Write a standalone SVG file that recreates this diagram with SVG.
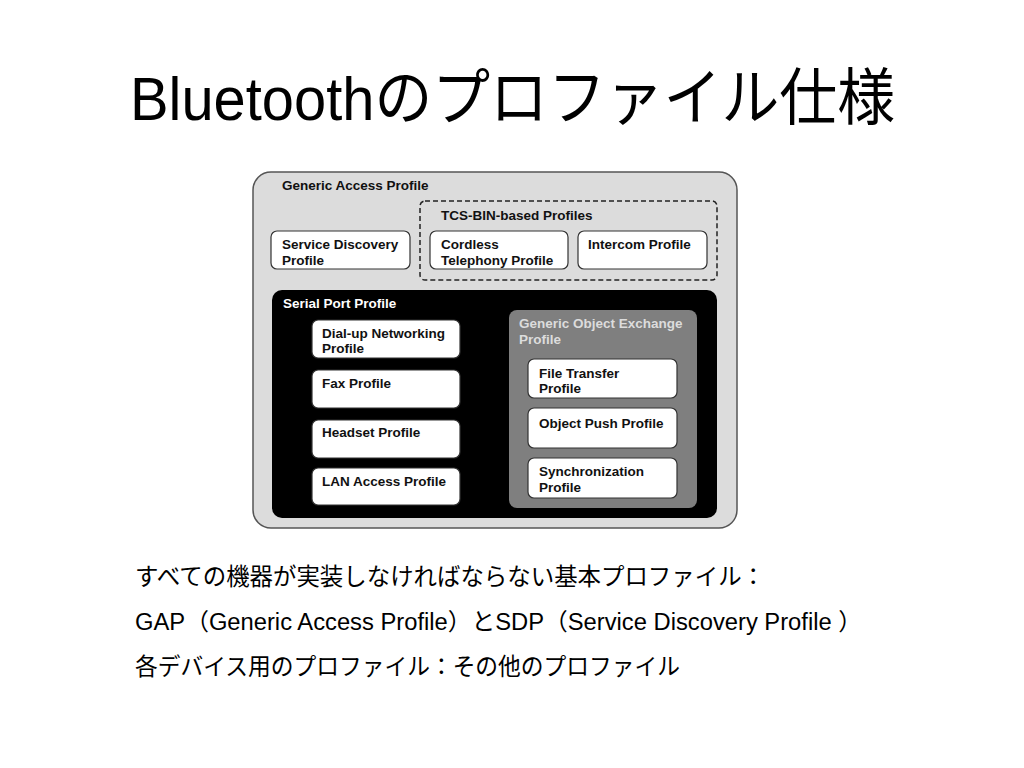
<svg xmlns="http://www.w3.org/2000/svg" width="1024" height="768" viewBox="0 0 1024 768">
<style>
.t{font-family:"Liberation Sans",Arial,sans-serif;font-weight:bold;font-size:13.5px;fill:#111}
.w{fill:#fff}
.g{fill:#dcdcdc}
.box{fill:#fff;stroke:#333;stroke-width:1.2}
.jp{font-family:"Liberation Sans","Noto Sans CJK JP",sans-serif;font-size:23.5px;fill:#000}
</style>
<rect width="1024" height="768" fill="#fff"/>
<text x="130" y="120" font-family="'Liberation Sans','Noto Sans CJK JP',sans-serif" font-size="62" textLength="765" lengthAdjust="spacingAndGlyphs">Bluetoothのプロファイル仕様</text>

<g id="gap">
<rect x="253" y="172" width="484" height="356" rx="18" fill="#dcdcdc" stroke="#555" stroke-width="1.5"/>
<text class="t" x="282" y="190">Generic Access Profile</text>
</g>
<g id="tcs">
<rect x="420" y="201" width="297" height="79" rx="5" fill="none" stroke="#222" stroke-width="1.5" stroke-dasharray="5,3"/>
<text class="t" x="441" y="220">TCS-BIN-based Profiles</text>
</g>
<g id="sdp">
<rect class="box" x="271" y="231" width="139" height="38" rx="6"/>
<text class="t" x="282" y="249">Service Discovery</text>
<text class="t" x="282" y="265">Profile</text>
</g>
<g id="ctp">
<rect class="box" x="430" y="231" width="138" height="38" rx="6"/>
<text class="t" x="441" y="249">Cordless</text>
<text class="t" x="441" y="265">Telephony Profile</text>
</g>
<g id="icp">
<rect class="box" x="578" y="231" width="129" height="38" rx="6"/>
<text class="t" x="588" y="249">Intercom Profile</text>
</g>
<g id="spp">
<rect x="272" y="290" width="445" height="228" rx="10" fill="#000"/>
<text class="t w" x="283" y="308">Serial Port Profile</text>
</g>
<g id="dun">
<rect class="box" x="312" y="320" width="148" height="38" rx="6"/>
<text class="t" x="322" y="338">Dial-up Networking</text>
<text class="t" x="322" y="353">Profile</text>
</g>
<g id="fax">
<rect class="box" x="312" y="370" width="148" height="38" rx="6"/>
<text class="t" x="322" y="388">Fax Profile</text>
</g>
<g id="hsp">
<rect class="box" x="312" y="420" width="148" height="38" rx="6"/>
<text class="t" x="322" y="437">Headset Profile</text>
</g>
<g id="lan">
<rect class="box" x="312" y="468" width="148" height="37" rx="6"/>
<text class="t" x="322" y="486">LAN Access Profile</text>
</g>
<g id="goep">
<rect x="509" y="310" width="188" height="198" rx="8" fill="#7f7f7f"/>
<text class="t g" x="519" y="328">Generic Object Exchange</text>
<text class="t g" x="519" y="344">Profile</text>
</g>
<g id="ftp">
<rect class="box" x="528" y="359" width="149" height="39" rx="6"/>
<text class="t" x="539" y="378">File Transfer</text>
<text class="t" x="539" y="393">Profile</text>
</g>
<g id="opp">
<rect class="box" x="528" y="408" width="149" height="40" rx="6"/>
<text class="t" x="539" y="428">Object Push Profile</text>
</g>
<g id="sync">
<rect class="box" x="528" y="458" width="149" height="40" rx="6"/>
<text class="t" x="539" y="476">Synchronization</text>
<text class="t" x="539" y="492">Profile</text>
</g>
<g id="connectors"></g>

<text class="jp" x="135" y="585" textLength="630" lengthAdjust="spacingAndGlyphs">すべての機器が実装しなければならない基本プロファイル：</text>
<text class="jp" x="135" y="630" textLength="727" lengthAdjust="spacingAndGlyphs">GAP（Generic Access Profile）とSDP（Service Discovery Profile ）</text>
<text class="jp" x="135" y="675" textLength="545" lengthAdjust="spacingAndGlyphs">各デバイス用のプロファイル：その他のプロファイル</text>
</svg>
